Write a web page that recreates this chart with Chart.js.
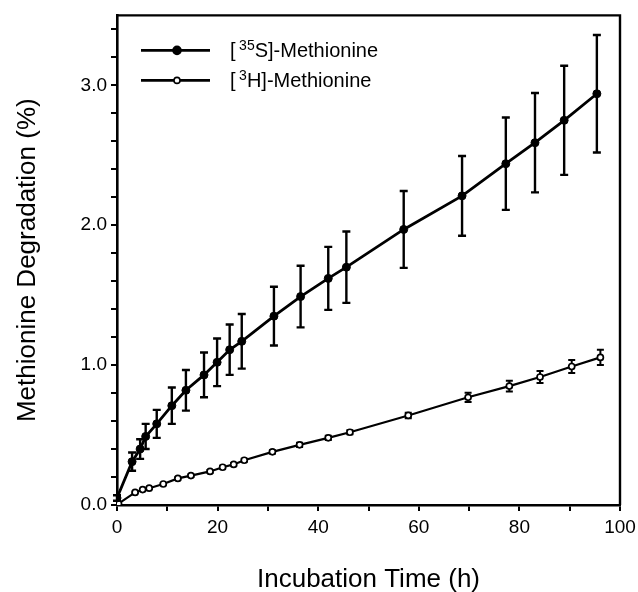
<!DOCTYPE html>
<html lang="en">
<head>
<meta charset="UTF-8">
<title>Methionine Degradation</title>
<script src="https://cdn.jsdelivr.net/npm/chart.js"></script>
<style>
body {
  margin: 0;
  background: #fff;
}
canvas {
  display: block;
}
</style>
</head>
<body>
<canvas id="chart" width="638" height="592"></canvas>

<script>
// [35S]-Methionine (filled circles)
const sTime = [0, 3.0, 4.6, 5.7, 7.9, 10.9, 13.7, 17.3, 19.9, 22.4, 24.8, 31.2, 36.5, 42.0, 45.6, 57.0, 68.6, 77.3, 83.1, 88.9, 95.4];
const sValue = [0.05, 0.31, 0.40, 0.49, 0.58, 0.71, 0.82, 0.93, 1.02, 1.11, 1.17, 1.35, 1.49, 1.62, 1.70, 1.97, 2.21, 2.44, 2.59, 2.75, 2.94];
const sError = [0.02, 0.065, 0.07, 0.09, 0.10, 0.13, 0.145, 0.16, 0.17, 0.18, 0.195, 0.21, 0.22, 0.225, 0.255, 0.275, 0.285, 0.33, 0.355, 0.39, 0.42];

// [3H]-Methionine (open circles)
const hTime = [0.3, 3.6, 5.1, 6.4, 9.2, 12.1, 14.7, 18.5, 21.0, 23.2, 25.3, 30.9, 36.3, 42.0, 46.3, 57.9, 69.8, 78.0, 84.1, 90.4, 96.1];
const hValue = [0.01, 0.09, 0.11, 0.12, 0.15, 0.19, 0.21, 0.24, 0.27, 0.29, 0.32, 0.38, 0.43, 0.48, 0.52, 0.64, 0.77, 0.85, 0.915, 0.99, 1.055];
const hError = [0, 0.005, 0.005, 0.005, 0.005, 0.008, 0.008, 0.01, 0.01, 0.01, 0.01, 0.012, 0.015, 0.015, 0.015, 0.02, 0.033, 0.039, 0.043, 0.047, 0.054];

const xLabels = [0, 20, 40, 60, 80, 100];
const yLabels = [0, 1, 2, 3];

const FONT = "'Liberation Sans', Arial, Helvetica, sans-serif";

function toPoints(xs, ys) {
  return xs.map((x, i) => ({ x: x, y: ys[i] }));
}

// error bars, drawn through the chart scales
const errorBars = {
  id: 'errorBars',
  beforeDatasetsDraw(chart) {
    const ctx = chart.ctx;
    const xs = chart.scales.x;
    const ys = chart.scales.y;
    const sets = [[sTime, sValue, sError, 2.4, 4], [hTime, hValue, hError, 2, 3.5]];
    ctx.save();
    ctx.strokeStyle = '#000';
    sets.forEach(([t, v, e, lw, cap]) => {
      ctx.lineWidth = lw;
      for (let i = 0; i < t.length; i++) {
        if (!e[i]) continue;
        const px = xs.getPixelForValue(t[i]);
        const top = ys.getPixelForValue(v[i] + e[i]);
        const bot = ys.getPixelForValue(v[i] - e[i]);
        ctx.beginPath();
        ctx.moveTo(px, top); ctx.lineTo(px, bot);
        ctx.moveTo(px - cap, top); ctx.lineTo(px + cap, top);
        ctx.moveTo(px - cap, bot); ctx.lineTo(px + cap, bot);
        ctx.stroke();
      }
    });
    ctx.restore();
  }
};

// box around the plot + legend with superscripts
const frameAndLegend = {
  id: 'frameAndLegend',
  afterDraw(chart) {
    const ctx = chart.ctx;
    const a = chart.chartArea;
    ctx.save();
    ctx.strokeStyle = '#000';
    ctx.lineWidth = 2.4;
    ctx.beginPath();
    ctx.moveTo(a.left, a.top);
    ctx.lineTo(a.right, a.top);
    ctx.lineTo(a.right, a.bottom);
    ctx.stroke();

    const items = [
      { sup: '35', el: 'S', filled: true, y: a.top + 35 },
      { sup: '3', el: 'H', filled: false, y: a.top + 65 }
    ];
    items.forEach(it => {
      ctx.lineWidth = 2.6;
      ctx.beginPath();
      ctx.moveTo(a.left + 24, it.y);
      ctx.lineTo(a.left + 93, it.y);
      ctx.stroke();
      ctx.beginPath();
      ctx.arc(a.left + 60, it.y, it.filled ? 4 : 3, 0, Math.PI * 2);
      ctx.fillStyle = it.filled ? '#000' : '#fff';
      ctx.fill();
      ctx.lineWidth = 1.6;
      ctx.stroke();

      ctx.fillStyle = '#000';
      ctx.textBaseline = 'alphabetic';
      let x = a.left + 113;
      const base = it.y + 7;
      ctx.font = '20px ' + FONT;
      ctx.fillText('[ ', x, base);
      x += ctx.measureText('[ ').width - 2;
      ctx.font = '14px ' + FONT;
      ctx.fillText(it.sup, x, base - 7);
      x += ctx.measureText(it.sup).width;
      ctx.font = '20px ' + FONT;
      ctx.fillText(it.el + ']-Methionine', x, base);
    });
    ctx.restore();
  }
};

new Chart(document.getElementById('chart'), {
  type: 'scatter',
  data: {
    datasets: [
      {
        label: '[35S]-Methionine',
        data: toPoints(sTime, sValue),
        showLine: true,
        borderColor: '#000',
        borderWidth: 2.8,
        pointRadius: 4,
        pointBackgroundColor: '#000',
        pointBorderColor: '#000',
        pointBorderWidth: 1
      },
      {
        label: '[3H]-Methionine',
        data: toPoints(hTime, hValue),
        showLine: true,
        borderColor: '#000',
        borderWidth: 2.2,
        pointRadius: 3,
        pointBackgroundColor: '#fff',
        pointBorderColor: '#000',
        pointBorderWidth: 1.7
      }
    ]
  },
  options: {
    responsive: false,
    animation: false,
    layout: { padding: { top: 14, right: 18, left: 0, bottom: 0 } },
    plugins: {
      legend: { display: false },
      tooltip: { enabled: false }
    },
    scales: {
      x: {
        type: 'linear',
        min: 0,
        max: 100,
        afterFit: s => { s.height = 87; s.paddingRight = 0; },
        border: { display: true, color: '#000', width: 2.6 },
        grid: { drawOnChartArea: false, color: '#000', lineWidth: 2, tickLength: 6 },
        ticks: {
          stepSize: 10,
          color: '#000',
          font: { family: FONT, size: 19 },
          padding: 5,
          maxRotation: 0,
          autoSkip: false,
          callback: v => xLabels.includes(v) ? String(v) : ''
        },
        title: {
          display: true,
          text: 'Incubation Time (h)',
          color: '#000',
          font: { family: FONT, size: 26 },
          padding: { top: 0, bottom: -3 }
        }
      },
      y: {
        type: 'linear',
        min: 0,
        max: 3.5,
        afterFit: s => { s.width = 117; },
        border: { display: true, color: '#000', width: 2.6 },
        grid: { drawOnChartArea: false, color: '#000', lineWidth: 2, tickLength: 6 },
        ticks: {
          stepSize: 0.2,
          includeBounds: false,
          color: '#000',
          font: { family: FONT, size: 19 },
          padding: 4,
          autoSkip: false,
          callback: v => yLabels.some(l => Math.abs(l - v) < 1e-6) ? v.toFixed(1) : ''
        },
        title: {
          display: true,
          text: 'Methionine Degradation (%)',
          color: '#000',
          font: { family: FONT, size: 26 },
          padding: { top: 12, bottom: 0 }
        }
      }
    }
  },
  plugins: [errorBars, frameAndLegend]
});
</script>
</body>
</html>
